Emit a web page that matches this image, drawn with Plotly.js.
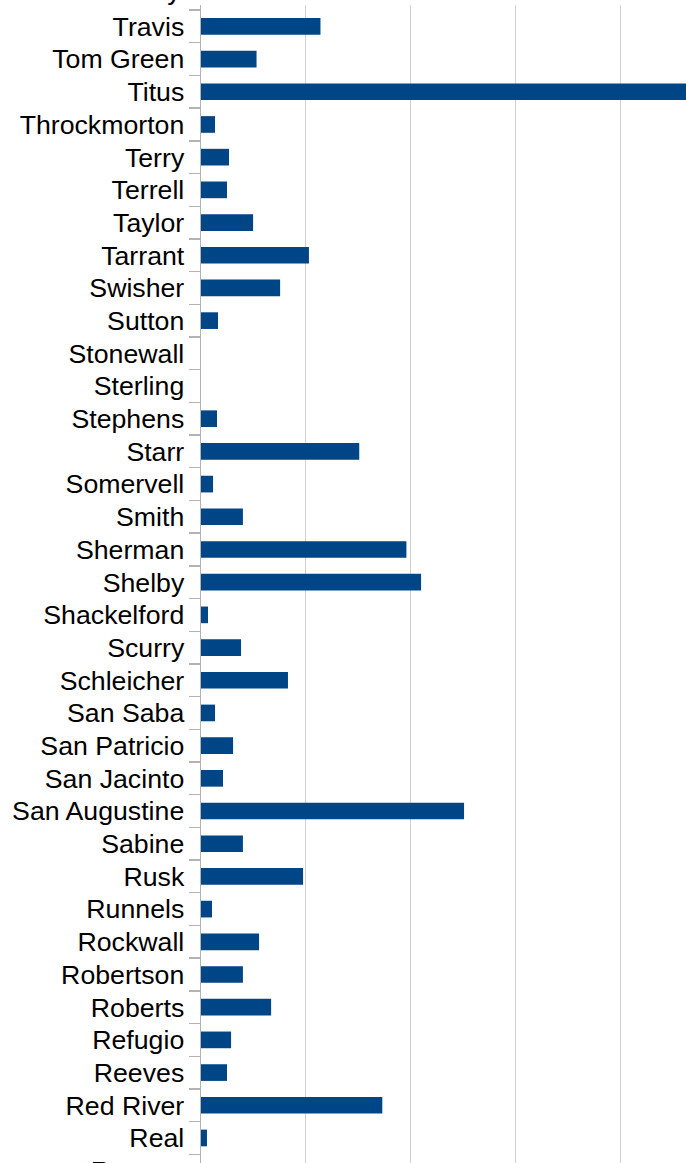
<!DOCTYPE html>
<html>
<head>
<meta charset="utf-8">
<script src="https://cdn.plot.ly/plotly-3.0.1.min.js"></script>
<style>
  html, body { margin: 0; padding: 0; overflow: hidden; background: #fff; width: 686px; height: 1163px; }
  #chart { position: absolute; left: 0; top: 0; width: 900px; height: 1247px; }
</style>
</head>
<body>
<div id="chart"></div>
<script>
// Categories, top to bottom (partial rows at the edges included)
const counties = [
  "Trinity", "Travis", "Tom Green", "Titus", "Throckmorton", "Terry", "Terrell",
  "Taylor", "Tarrant", "Swisher", "Sutton", "Stonewall", "Sterling", "Stephens",
  "Starr", "Somervell", "Smith", "Sherman", "Shelby", "Shackelford", "Scurry",
  "Schleicher", "San Saba", "San Patricio", "San Jacinto", "San Augustine",
  "Sabine", "Rusk", "Runnels", "Rockwall", "Robertson", "Roberts", "Refugio",
  "Reeves", "Red River", "Real", "Reagan"
];
// Values (arbitrary units: one gridline = 10)
const values = [
  null, 11.4, 5.3, 48.0, 1.34, 2.67, 2.48,
  4.97, 10.3, 7.55, 1.62, 0, 0, 1.53,
  15.1, 1.15, 4.0, 19.6, 21.0, 0.67, 3.82,
  8.3, 1.34, 3.06, 2.1, 25.1,
  4.0, 9.74, 1.05, 5.54, 4.0, 6.69, 2.87,
  2.48, 17.3, 0.57, null
];

const topEdge = 0.346;     // category position at top edge of plot area
const bottomEdge = 36.5;   // category position at bottom edge of plot area
const plotH = 1247 - 5 - 60;
const rowPx = plotH / (bottomEdge - topEdge);
const labelFont = { family: 'Liberation Sans, Arial, sans-serif', size: 26.7, color: '#000000' };

const trace = {
  type: 'bar',
  orientation: 'h',
  y: counties,
  x: values,
  marker: { color: '#004586' },
  hoverinfo: 'skip'
};

const layout = {
  width: 900,
  height: 1247,
  margin: { l: 201, r: 0, t: 5, b: 60 },
  paper_bgcolor: '#ffffff',
  plot_bgcolor: '#ffffff',
  bargap: 0.49,
  showlegend: false,
  font: labelFont,
  xaxis: {
    range: [0, 699 / 10.48],
    tick0: 0,
    dtick: 10,
    showgrid: true,
    gridcolor: '#d0d0d0',
    gridwidth: 1.4,
    zeroline: false,
    showline: false,
    ticks: '',
    showticklabels: false,
    fixedrange: true
  },
  yaxis: {
    type: 'category',
    categoryorder: 'array',
    categoryarray: counties,
    range: [bottomEdge, topEdge],
    showgrid: false,
    zeroline: false,
    showline: true,
    linecolor: '#b3b3b3',
    linewidth: 1.4,
    ticks: 'outside',
    tickson: 'boundaries',
    ticklen: 11,
    tickwidth: 1.4,
    tickcolor: '#b3b3b3',
    ticklabelstandoff: 10,
    tickfont: labelFont,
    fixedrange: true
  },
  annotations: [{
    text: counties[0],
    xref: 'paper', yref: 'paper',
    x: 0, y: 1,
    xanchor: 'right', yanchor: 'middle',
    xshift: -18,
    yshift: topEdge * rowPx + 3,
    showarrow: false,
    font: labelFont
  }]
};

Plotly.newPlot('chart', [trace], layout, { displayModeBar: false, staticPlot: true });
</script>
</body>
</html>
